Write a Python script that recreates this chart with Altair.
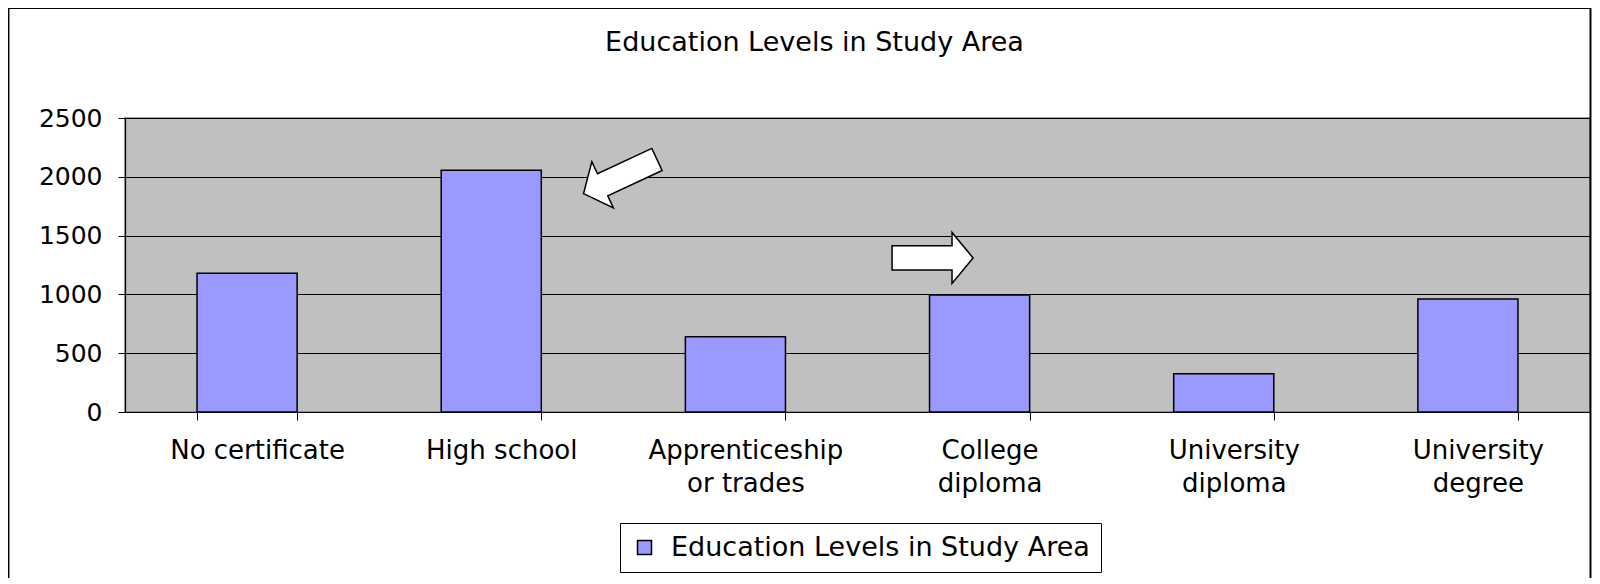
import altair as alt
import pandas as pd

# ---- data ----
categories = ["No certificate", "High school", "Apprenticeship\nor trades",
              "College\ndiploma", "University\ndiploma", "University\ndegree"]
counts = [1180, 2055, 640, 995, 325, 960]
series_name = "Education Levels in Study Area"
y_ticks = [0, 500, 1000, 1500, 2000, 2500]

# annotation arrows (anchor category and value level)
arrow1_category = ["High school"]
arrow1_value = [2002]
arrow2_category = ["College\ndiploma"]
arrow2_value = [1310]

FONT = "DejaVu Sans"

df = pd.DataFrame({"category": categories, "count": counts, "series": series_name})
a1 = pd.DataFrame({"category": arrow1_category, "value": arrow1_value})
a2 = pd.DataFrame({"category": arrow2_category, "value": arrow2_value})

x_scale = alt.Scale(domain=categories, paddingInner=0.59, paddingOuter=0.295)
y_scale = alt.Scale(domain=[0, 2500], nice=False)

x_enc = alt.X(
    "category:N", sort=categories, scale=x_scale,
    axis=alt.Axis(title=None, labelAngle=0, labelFont=FONT, labelFontSize=26,
                  labelColor="black", labelLineHeight=33, labelPadding=17,
                  labelOffset=10, labelLimit=0, tickBand="extent", tickSize=8,
                  tickColor="black", domainColor="black", domainWidth=1.2,
                  grid=False, labelExpr="split(datum.label, '\\n')"),
)

bars = alt.Chart(df).mark_bar(stroke="black", strokeWidth=1.5).encode(
    x=x_enc,
    y=alt.Y("count:Q", scale=y_scale,
            axis=alt.Axis(title=None, values=y_ticks, format="d", labelFont=FONT,
                          labelFontSize=25, labelColor="black", labelPadding=16,
                          tickSize=7, tickColor="black", domainColor="black",
                          domainWidth=1.2, gridColor="black", gridWidth=1)),
    color=alt.Color("series:N", scale=alt.Scale(range=["#9999FF"]),
                    legend=alt.Legend(title=None, orient="none", legendX=495, legendY=405,
                                      symbolType="square", symbolSize=196,
                                      symbolStrokeColor="black", symbolStrokeWidth=1.5,
                                      labelFont=FONT, labelFontSize=27, labelColor="black",
                                      labelOffset=13, labelLimit=0, padding=11,
                                      strokeColor="black", fillColor="white",
                                      cornerRadius=0)),
)

ARROW = "M -1 -0.3 L 0.48 -0.3 L 0.48 -0.63 L 1 0 L 0.48 0.63 L 0.48 0.3 L -1 0.3 Z"

arrow1 = alt.Chart(a1).mark_point(
    shape=ARROW, size=6561, filled=True, fill="white", stroke="black",
    strokeWidth=1.5, opacity=1, angle=155, xOffset=129,
).encode(x=alt.X("category:N", sort=categories, scale=x_scale),
         y=alt.Y("value:Q", scale=y_scale))

arrow2 = alt.Chart(a2).mark_point(
    shape=ARROW, size=6561, filled=True, fill="white", stroke="black",
    strokeWidth=1.5, opacity=1, angle=0, xOffset=-47,
).encode(x=alt.X("category:N", sort=categories, scale=x_scale),
         y=alt.Y("value:Q", scale=y_scale))

frame = alt.Chart(df).mark_rect(filled=False, stroke="black", strokeWidth=1.2).encode(
    x=alt.value(-116.5), x2=alt.value(1465.5), y=alt.value(-109.5), y2=alt.value(600)
)

chart = alt.layer(frame, bars, arrow1, arrow2).properties(
    width=1465, height=294,
    background="white",
    title=alt.TitleParams(series_name, anchor="middle", dx=-43, font=FONT,
                          fontSize=27, fontWeight="normal", color="black",
                          baseline="alphabetic", offset=-70),
    autosize=alt.AutoSizeParams(type="none"),
    padding={"left": 117, "top": 110, "right": 2, "bottom": 166},
).configure_view(
    fill="#C0C0C0", stroke="#808080", strokeWidth=1.5
)

chart.save("out.html", embed_options={"renderer": "svg", "actions": False})
